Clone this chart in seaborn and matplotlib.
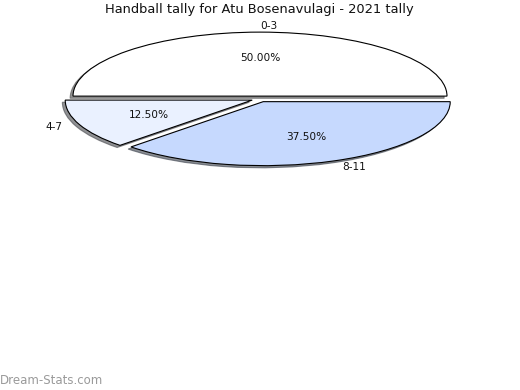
import matplotlib
matplotlib.use("Agg")
import matplotlib.pyplot as plt
import seaborn as sns

categories = ["0-3", "4-7", "8-11"]
counts = [4, 1, 3]
colors = ["#ffffff", "#eaf1ff", "#c6d9fe"]
title = "Handball tally for Atu Bosenavulagi - 2021 tally"

sns.set_theme(style="white")
plt.rcParams['font.family'] = ['DejaVu Sans']

W, H = 520, 390
fig = plt.figure(figsize=(W / 100, H / 100), dpi=100)
cx, cy, rx, ry = 260, 99, 187, 64
lim = 1.2
ax = fig.add_axes([(cx - lim * rx) / W, (H - cy - lim * ry) / H,
                   2 * lim * rx / W, 2 * lim * ry / H])
wedges, texts, autotexts = ax.pie(
    counts, labels=categories, colors=colors, autopct="%.2f%%",
    explode=[0.045] * len(counts),
    shadow=dict(ox=-0.011, oy=-0.024, shade=0.7, alpha=0.6),
    startangle=0,
    wedgeprops=dict(edgecolor="black", linewidth=0.8),
    textprops=dict(fontsize=7.6, color="#111111"))
texts[0].set_ha("left")
ax.set_aspect("auto")
ax.set_xlim(-lim, lim)
ax.set_ylim(-lim, lim)
ax.axis("off")

fig.text(259 / W, 1 - 10 / H, title, ha="center", va="center", fontsize=9.4, color="#111111")
fig.text(0, 1 - 380 / H, "Dream-Stats.com", ha="left", va="center", fontsize=8.5,
         color="#9a9a9a")

fig.savefig("out.png", dpi=100, facecolor="white")
